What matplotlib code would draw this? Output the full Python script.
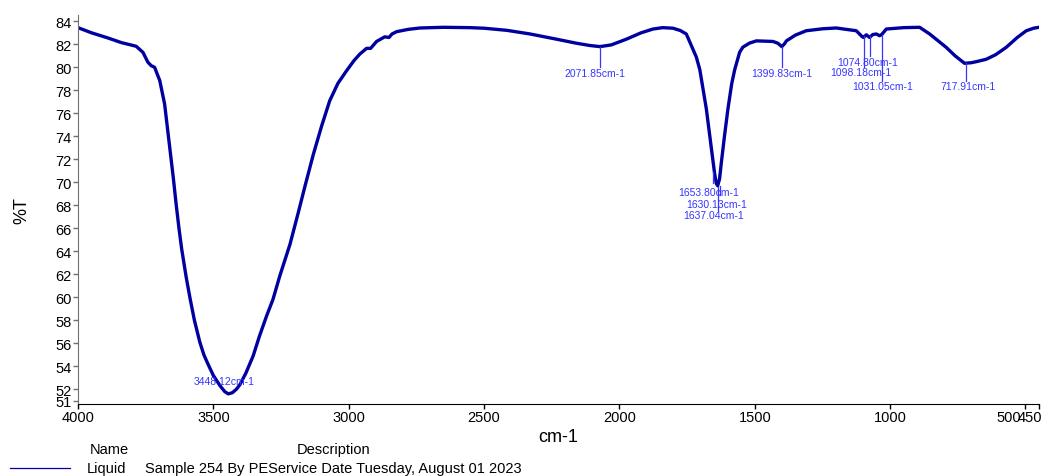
import numpy as np
import matplotlib
matplotlib.use("Agg")
import matplotlib.pyplot as plt
from matplotlib.lines import Line2D

plt.rcParams['font.family'] = ['Liberation Sans', 'DejaVu Sans']

# FTIR spectrum (wavenumber cm-1, %T)
wavenumber = [4000, 3950, 3889, 3840, 3785, 3760, 3742, 3730, 3717, 3698, 3680, 3661,
              3648, 3637, 3627, 3617, 3600, 3586, 3570, 3550, 3535, 3520, 3500, 3475, 3458, 3445, 3430, 3415, 3402,
              3380, 3353, 3330, 3303, 3280, 3254, 3217, 3187, 3160, 3131, 3100, 3070,
              3040, 3008, 2980, 2959, 2934, 2919, 2897, 2867, 2851, 2840, 2823, 2780,
              2737, 2650, 2553, 2500, 2417, 2330, 2233, 2160, 2110, 2072, 2030, 1974,
              1920, 1876, 1840, 1802, 1775, 1753, 1740, 1716, 1703, 1679, 1660, 1648,
              1642, 1637, 1630, 1624, 1612, 1599, 1585, 1574, 1556, 1544, 1520, 1494, 1433,
              1415, 1400, 1390, 1383, 1350, 1310, 1250, 1199, 1125, 1103, 1098, 1088,
              1076, 1064, 1051, 1039, 1031, 1014, 950, 891, 854, 825, 793, 760,
              725, 700, 680, 645, 610, 571, 530, 497, 470, 450]
transmittance = [83.45, 83.0, 82.55, 82.15, 81.83, 81.3, 80.45, 80.15, 80.0, 78.85, 76.8, 73.0,
                 70.4, 68.0, 66.0, 64.2, 61.7, 59.9, 58.0, 56.1, 55.0, 54.2, 53.2, 52.3, 51.8, 51.6, 51.7, 52.0, 52.4,
                 53.4, 54.9, 56.6, 58.4, 59.8, 61.9, 64.6, 67.3, 69.8, 72.4, 74.9, 77.1,
                 78.6, 79.7, 80.6, 81.15, 81.65, 81.65, 82.25, 82.65, 82.6, 82.9, 83.1, 83.3,
                 83.42, 83.48, 83.45, 83.4, 83.22, 82.9, 82.45, 82.1, 81.9, 81.8, 81.95, 82.45,
                 83.0, 83.33, 83.45, 83.4, 83.2, 82.9, 82.2, 80.9, 79.8, 76.4, 72.9, 70.7,
                 69.9, 69.7, 70.3, 71.6, 74.0, 76.4, 78.6, 79.8, 81.3, 81.75, 82.1, 82.3, 82.25,
                 82.1, 81.8, 82.05, 82.3, 82.8, 83.18, 83.35, 83.42, 83.18, 82.66, 82.6, 82.83,
                 82.6, 82.85, 82.9, 82.75, 82.85, 83.33, 83.45, 83.48, 82.9, 82.35, 81.74, 81.0,
                 80.35, 80.4, 80.5, 80.7, 81.1, 81.74, 82.6, 83.18, 83.4, 83.48]

# peak labels
peak_wn = [3448.12, 2071.85, 1653.80, 1630.13, 1637.04, 1399.83, 1074.80, 1098.18, 1031.05, 717.91]
peak_text = ["3448.12cm-1", "2071.85cm-1", "1653.80cm-1", "1630.13cm-1", "1637.04cm-1",
             "1399.83cm-1", "1074.80cm-1", "1098.18cm-1", "1031.05cm-1", "717.91cm-1"]
# marker line (top, bottom) and label y, in %T
line_top = [None, 81.8, 70.9, 69.7, 69.6, 81.8, 82.7, 82.7, 82.8, 80.35]
line_bot = [None, 80.0, 69.9, 68.9, 67.6, 80.0, 81.0, 80.0, 78.8, 78.8]
label_y = [52.75, 79.5, 69.2, 68.15, 67.15, 79.5, 80.5, 79.55, 78.35, 78.35]
label_dx = [-12, -20, -15, -12, -14, 0, -10, -10, 5, 5]

xticks = [4000, 3500, 3000, 2500, 2000, 1500, 1000, 500, 450]

navy = '#0000a0'
label_blue = '#3535ff'

fig = plt.figure(figsize=(10.52, 4.77), dpi=100)
ax = fig.add_axes([78/1052, 1-405/477, (1039-78)/1052, (405-16)/477])

ax.plot(wavenumber, transmittance, color=navy, lw=2.4, solid_capstyle='round', solid_joinstyle='round')

for i in range(len(peak_wn)):
    if line_top[i] is not None:
        ax.plot([peak_wn[i], peak_wn[i]], [line_bot[i], line_top[i]], color=label_blue, lw=0.9)
    ax.text(peak_wn[i] - label_dx[i], label_y[i], peak_text[i], color=label_blue,
            fontsize=7.5, ha='center', va='center')

ax.set_xlim(4000, 450)
ax.set_ylim(50.72, 84.55)
ax.set_xticks(xticks)
# last two labels sit side by side ("500450"), drawn by hand below
ax.set_xticklabels([str(t) for t in xticks[:-2]] + ['', ''])
for t, dx in zip(xticks[-2:], [-3.4, 2.2]):
    ax.annotate(str(t), xy=(t, 0), xycoords=('data', 'axes fraction'),
                xytext=(dx, -4.6), textcoords='offset points',
                ha='right', va='top', fontsize=10.5)
ax.set_yticks([51] + list(range(52, 85, 2)))

ax.spines['top'].set_visible(False)
ax.spines['right'].set_visible(False)
ax.spines['left'].set_color('#707070')
ax.spines['bottom'].set_color('black')
ax.tick_params(axis='x', direction='out', length=3.5, width=1, labelsize=10.5, pad=1, colors='black')
ax.tick_params(axis='y', direction='out', length=3.5, width=1, labelsize=10.5, pad=1, color='#707070', labelcolor='black')

ax.set_xlabel('cm-1', fontsize=13, labelpad=3)
ax.set_ylabel('%T', fontsize=13, labelpad=18)

# legend table under the plot
fig.text(90/1052, 1-450/477, 'Name', fontsize=10.5, va='center', ha='left')
fig.text(297/1052, 1-450/477, 'Description', fontsize=10.5, va='center', ha='left')
fig.text(87/1052, 1-469/477, 'Liquid', fontsize=10.5, va='center', ha='left')
fig.text(145/1052, 1-469/477, 'Sample 254 By PEService Date Tuesday, August 01 2023',
         fontsize=10.5, va='center', ha='left')
fig.add_artist(Line2D([10/1052, 70/1052], [1-469/477, 1-469/477], color=navy, lw=0.9,
                      transform=fig.transFigure))

plt.savefig('out.png', dpi=100)
